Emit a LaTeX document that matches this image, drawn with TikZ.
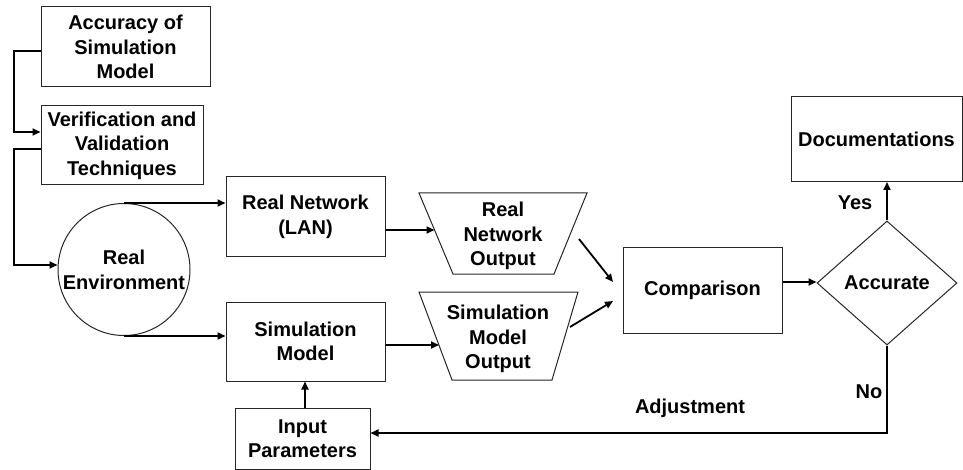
\documentclass[tikz,border=0pt]{standalone}
\usepackage{fontspec}
\setmainfont{Liberation Sans}
\usetikzlibrary{shapes.geometric,arrows.meta}
\begin{document}
\begin{tikzpicture}[x=1pt,y=-1pt,
  every node/.style={font=\bfseries\fontsize{20}{24.5}\selectfont, align=center, inner sep=0pt},
  box/.style={draw=black!85, line width=1pt, rectangle},
  shp/.style={draw=black!85, line width=1pt},
  conn/.style={line width=1.8pt, line join=miter},
  arr/.style={conn, -{Triangle[length=8pt,width=7pt]}}
]
\fill[white] (0,0) rectangle (963,470);
\useasboundingbox (0,0) rectangle (963,470);

% nodes
\node[box, minimum width=169pt, minimum height=80pt] (acc) at (125.5,47) {Accuracy of\\Simulation\\Model};
\node[box, minimum width=162pt, minimum height=79pt] (vv) at (122,145.5) {Verification and\\Validation\\Techniques};
\node[shp, circle, minimum size=132pt] (env) at (124,269.5) {};
\node (envt) at (124,270) {Real\\Environment};
\node[box, minimum width=159pt, minimum height=80pt] (rn) at (305.5,217) {Real Network\\(LAN)};
\node[box, minimum width=159pt, minimum height=79pt] (sm) at (305.5,341.5) {Simulation\\Model};
\node[box, minimum width=135pt, minimum height=61pt] (ip) at (302.5,438.5) {Input\\Parameters};

% trapezoids
\coordinate (rnoTL) at (419,193); \coordinate (rnoTR) at (587,193);
\coordinate (rnoBR) at (554,274); \coordinate (rnoBL) at (453,274);
\draw[shp] (rnoTL) -- (rnoTR) -- (rnoBR) -- (rnoBL) -- cycle;
\node (rno) at (503,236) {Real\\Network\\Output};
\coordinate (rnoIn) at (434.5,230);

\coordinate (smoTL) at (419,292); \coordinate (smoTR) at (578,292);
\coordinate (smoBR) at (552,380); \coordinate (smoBL) at (452,380);
\draw[shp] (smoTL) -- (smoTR) -- (smoBR) -- (smoBL) -- cycle;
\node (smo) at (498,339) {Simulation\\Model\\Output};
\coordinate (smoIn) at (439,345);

\node[box, minimum width=159pt, minimum height=85pt] (cmp) at (702.5,290.5) {Comparison};
\node[shp, diamond, minimum width=140pt, minimum height=124pt] (dia) at (887,283) {Accurate};
\node[box, minimum width=171pt, minimum height=85pt] (doc) at (876.5,139.5) {Documentations};

% labels
\node (yes) at (855,203) {Yes};
\node (no) at (869,392) {No};
\node (adj) at (690,408) {Adjustment};

% connectors
\draw[arr] (acc.west |- 0,51) -- (14,51) -- (14,132) -- (vv.west |- 0,132);
\draw[arr] (vv.west |- 0,149) -- (14,149) -- (14,265) -- (env.west |- 0,265);
\draw[arr] (env.north) -- (env.north -| rn.west);
\draw[arr] (env.south) -- (env.south -| sm.west);
\draw[arr] (rn.east |- rnoIn) -- (rnoIn);
\draw[arr] (sm.east |- smoIn) -- (smoIn);
\coordinate (a1s) at (579,239); \coordinate (a1e) at (613,282);
\coordinate (a2s) at (570,327); \coordinate (a2e) at (613,301);
\draw[arr] (a1s) -- (a1e);
\draw[arr] (a2s) -- (a2e);
\draw[arr] (cmp.east |- 0,282) -- (dia.west |- 0,282);
\coordinate (yesc) at (887,182);
\draw[arr] (dia.north -| yesc) -- (yesc);
\coordinate (adjc) at (887,433);
\draw[arr] (dia.south -| adjc) -- (adjc) -- (ip.east |- adjc);
\coordinate (ipc) at (305,0);
\draw[arr] (ip.north -| ipc) -- (sm.south -| ipc);
\end{tikzpicture}
\end{document}
